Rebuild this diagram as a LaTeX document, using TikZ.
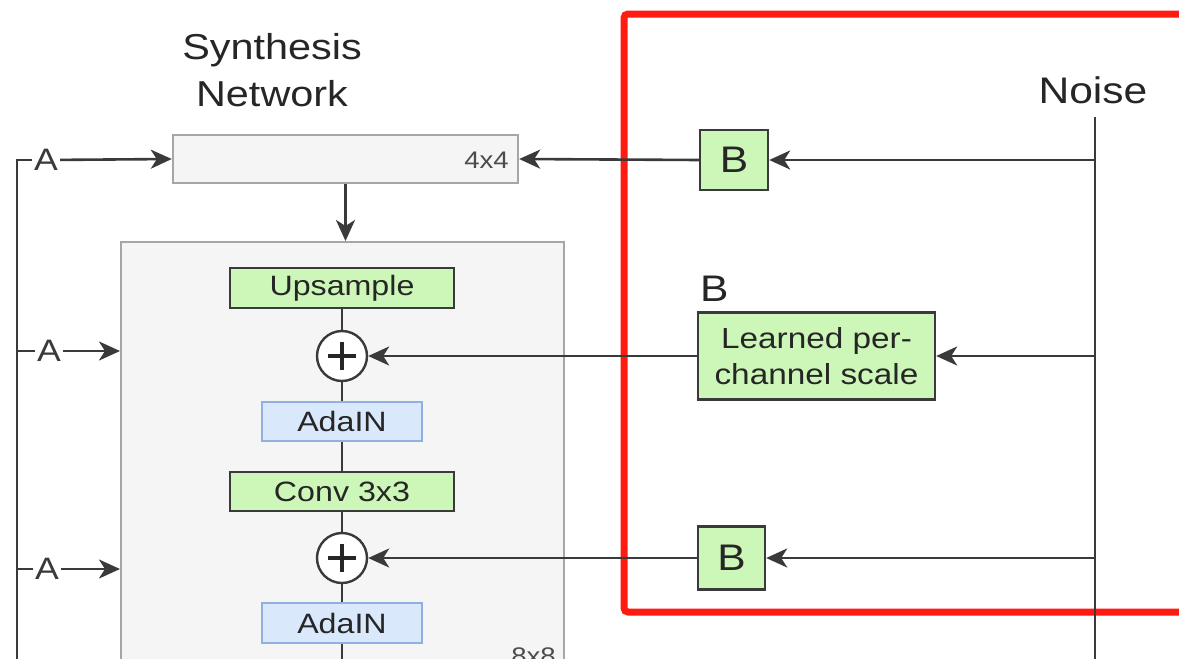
\documentclass[tikz,border=0pt]{standalone}
\usepackage{fontspec}
\setmainfont{Liberation Sans}[FakeStretch=1.15]
\usetikzlibrary{arrows.meta}
\definecolor{ink}{HTML}{3A3A3A}
\definecolor{gfill}{HTML}{CDF7B8}
\definecolor{bfill}{HTML}{DAE8FC}
\definecolor{bline}{HTML}{8FB0E0}
\definecolor{pale}{HTML}{F5F5F5}
\definecolor{paleline}{HTML}{A6A6A6}
\definecolor{redline}{HTML}{FF1A12}
\tikzset{
  wire/.style={draw=ink, line width=2.6pt},
  arr/.style={wire, -{Stealth[length=21pt,width=19pt,inset=6pt]}},
  greenbox/.style={draw=ink, fill=gfill, line width=2.4pt, inner sep=0pt, font=\fontsize{28}{33}\selectfont, text=black!85},
  bluebox/.style={draw=bline, fill=bfill, line width=2.2pt, inner sep=0pt, font=\fontsize{28}{33}\selectfont, text=black!85},
  palebox/.style={draw=paleline, fill=pale, line width=2.4pt, inner sep=0pt},
  plus/.style={circle, draw=ink, fill=white, line width=2.4pt, minimum size=50pt, inner sep=0pt},
  plusmark/.style={draw=black!85, line width=4pt},
  alabel/.style={font=\fontsize{31}{36}\selectfont, text=ink, inner sep=2pt},
  bigtext/.style={font=\fontsize{37}{44}\selectfont, text=black!85, inner sep=0pt},
}
\begin{document}
\begin{tikzpicture}[x=1pt, y=-1pt]
\useasboundingbox (0,0) rectangle (1179,659);
\clip (0,0) rectangle (1179,659);
\fill[white] (0,0) rectangle (1179,659);

% title
\node[align=center, font=\fontsize{36}{47}\selectfont, text=black!85] (title) at (272,70) {Synthesis\\Network};

% 4x4 box
\node[palebox, minimum width=345pt, minimum height=48pt] (b4) at (345.5,159) {};
\node[anchor=east, font=\fontsize{24}{28}\selectfont, text=black!70, inner sep=0pt] (l4) at (509,160) {4x4};

% big box
\node[palebox, anchor=north west, minimum width=443pt, minimum height=480pt] (big) at (120,241) {};
\node[anchor=base east, font=\fontsize{24}{28}\selectfont, text=black!70, inner sep=0pt] (l8) at (556,664) {8x8};

% inner column
\node[greenbox, minimum width=224pt, minimum height=40pt] (up) at (342,288) {Upsample};
\node[plus] (p1) at (342,356) {};
\node[bluebox, minimum width=160pt, minimum height=39pt] (ad1) at (342,421.5) {AdaIN};
\node[greenbox, minimum width=224pt, minimum height=39pt] (conv) at (342,491.5) {Conv 3x3};
\node[plus] (p2) at (342,558) {};
\node[bluebox, minimum width=160pt, minimum height=40pt] (ad2) at (342,623) {AdaIN};
\coordinate (bot) at (342,680);

\draw[plusmark] (p1.center) ++(-14,0) -- ++(28,0);
\draw[plusmark] (p1.center) ++(0,-14) -- ++(0,28);
\draw[plusmark] (p2.center) ++(-14,0) -- ++(28,0);
\draw[plusmark] (p2.center) ++(0,-14) -- ++(0,28);

\draw[wire] (up) -- (p1);
\draw[wire] (p1) -- (ad1);
\draw[wire] (ad1) -- (conv);
\draw[wire] (conv) -- (p2);
\draw[wire] (p2) -- (ad2);
\draw[wire] (ad2) -- (bot);
\draw[arr] (b4.south) -- (b4.south |- big.north);

% left A inputs
\coordinate (lt) at (17,160);
\coordinate (lb) at (17,680);
\node[alabel] (a1) at (46,160) {A};
\node[alabel] (a2) at (49,351) {A};
\node[alabel] (a3) at (47,569) {A};
\draw[wire] (lb) -- (lt) -- (a1);
\draw[wire] (a2 -| lt) -- (a2);
\draw[wire] (a3 -| lt) -- (a3);
\draw[arr] (a1) -- (b4.west);
\draw[arr] (a2) -- (a2 -| big.west);
\draw[arr] (a3) -- (a3 -| big.west);

% right side
\draw[redline, line width=7pt, rounded corners=4pt] (1250,14) -- (624,14) -- (624,612) -- (1250,612);
\node[bigtext] (noise) at (1093,90) {Noise};
\coordinate (nt) at (1095,117);
\coordinate (nb) at (1095,680);
\draw[wire] (nt) -- (nb);

\node[greenbox, minimum width=68pt, minimum height=60pt, font=\fontsize{37}{44}\selectfont] (bb1) at (734,160) {B};
\node[greenbox, minimum width=237pt, minimum height=87pt, align=center, font=\fontsize{29}{36}\selectfont] (learn) at (816.5,356) {Learned per-\\channel scale};
\node[bigtext, anchor=south west] (blab) at (700,302) {B};
\node[greenbox, minimum width=67pt, minimum height=63pt, font=\fontsize{37}{44}\selectfont] (bb3) at (731.5,558) {B};

\draw[arr] (bb1 -| nt) -- (bb1.east);
\draw[arr] (bb1.west) -- (b4.east);
\draw[arr] (learn -| nt) -- (learn.east);
\draw[arr] (learn.west) -- (p1.east);
\draw[arr] (bb3 -| nt) -- (bb3.east);
\draw[arr] (bb3.west) -- (p2.east);
\end{tikzpicture}
\end{document}
